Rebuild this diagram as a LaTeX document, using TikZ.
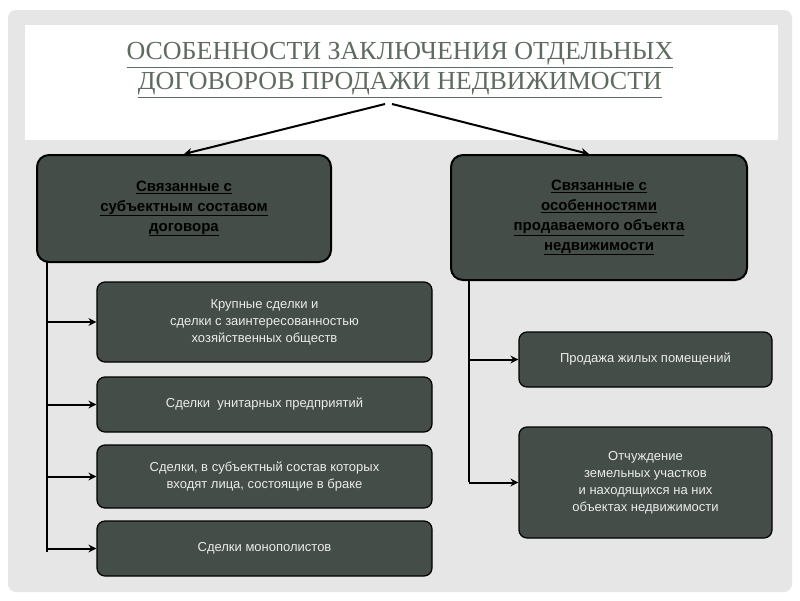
\documentclass[tikz,border=0pt]{standalone}
\usepackage{fontspec}
\setmainfont{Liberation Serif}
\newfontfamily\bodyfont{Liberation Sans}
\usetikzlibrary{arrows.meta}
\definecolor{boxfill}{HTML}{454D48}
\definecolor{titlecol}{HTML}{5E6B60}
\definecolor{bggray}{HTML}{E6E6E6}
\tikzset{
 hdr/.style={draw=black,line width=2pt,fill=boxfill,rounded corners=12pt,align=center,font=\bodyfont\bfseries\fontsize{15}{20}\selectfont,text=black},
 item/.style={draw=black,line width=1.2pt,fill=boxfill,rounded corners=8pt,align=center,font=\bodyfont\fontsize{13}{17}\selectfont,text=white!92!black},
 conn/.style={line width=2pt,-{Stealth[length=8pt,width=8pt]}},
 trunk/.style={line width=2pt}
}
\begin{document}
\begin{tikzpicture}[x=1pt,y=-1pt]
\useasboundingbox (0,0) rectangle (800,600);
\fill[white] (0,0) rectangle (800,600);
\fill[bggray,rounded corners=8pt] (8,10) rectangle (792,592);
\fill[white] (25,25) rectangle (778,140);
\node[font=\fontsize{26}{30}\selectfont,text=titlecol,align=center] (title) at (400,70) {\underline{ОСОБЕННОСТИ ЗАКЛЮЧЕНИЯ ОТДЕЛЬНЫХ}\\\underline{ДОГОВОРОВ ПРОДАЖИ НЕДВИЖИМОСТИ}};
\node[hdr,minimum width=294pt,minimum height=107pt] (L) at (184,208.5) {\underline{Связанные с}\\\underline{субъектным составом}\\\underline{договора}};
\node[hdr,minimum width=296pt,minimum height=125pt] (R) at (599,217.5) {\underline{Связанные с}\\\underline{особенностями}\\\underline{продаваемого объекта}\\\underline{недвижимости}};
\coordinate (tL) at (385,104);
\coordinate (tR) at (392,104);
\draw[conn] (tL) -- (L.north);
\draw[conn] (tR) -- ([xshift=-10pt]R.north);
\node[item,minimum width=335pt,minimum height=80pt] (a1) at (264.5,322) {Крупные сделки и\\сделки с заинтересованностью\\хозяйственных обществ};
\node[item,minimum width=335pt,minimum height=55pt] (a2) at (264.5,404.5) {Сделки\ \ унитарных предприятий};
\node[item,minimum width=335pt,minimum height=63pt] (a3) at (264.5,476.5) {Сделки, в субъектный состав которых\\входят лица, состоящие в браке};
\node[item,minimum width=335pt,minimum height=55pt] (a4) at (264.5,548.5) {Сделки монополистов};
\node[item,minimum width=253pt,minimum height=55pt] (b1) at (645.5,359.5) {Продажа жилых помещений};
\node[item,minimum width=253pt,minimum height=111pt] (b2) at (645.5,482.5) {Отчуждение\\земельных участков\\и находящихся на них\\объектах недвижимости};
\coordinate (Lt) at (47,262);
\coordinate (Lb) at (47,552);
\coordinate (Rt) at (469,280);
\coordinate (Rb) at (469,482);
\draw[trunk] (Lt) -- (Lb);
\draw[trunk] (Rt) -- (Rb);
\foreach \n in {a1,a2,a3,a4} \draw[conn] (47,0 |- \n.west) -- (\n.west);
\foreach \n in {b1,b2} \draw[conn] (469,0 |- \n.west) -- (\n.west);
\end{tikzpicture}
\end{document}
